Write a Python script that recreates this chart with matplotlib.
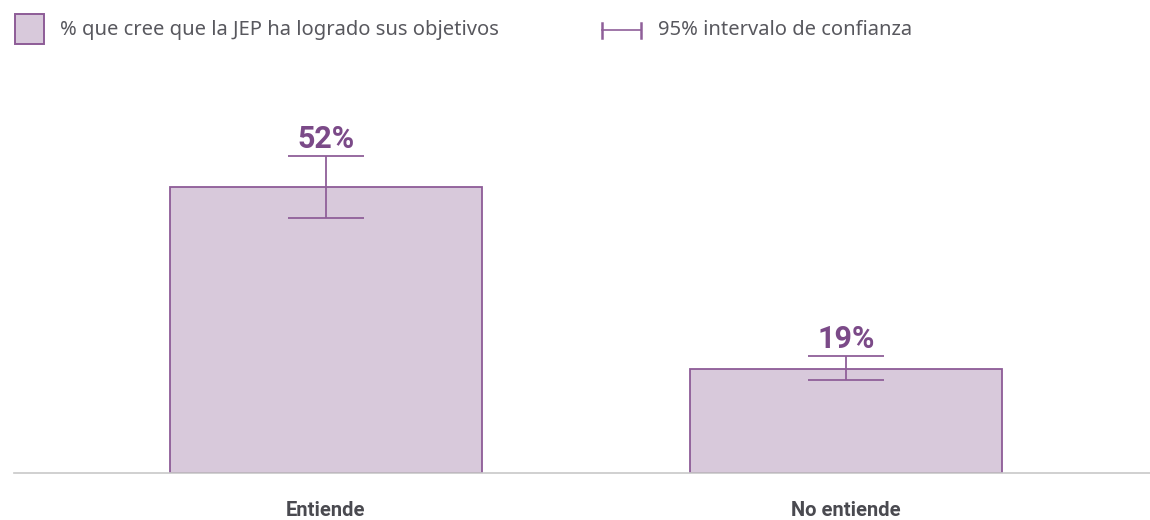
import matplotlib.pyplot as plt
from matplotlib.patches import Rectangle
from matplotlib.lines import Line2D

categories = ['Entiende', 'No entiende']
values = [52, 19]
ci_low = [46.3, 16.9]
ci_high = [57.6, 21.3]

legend_bar = '% que cree que la JEP ha logrado sus objetivos'
legend_ci = '95% intervalo de confianza'

fill = '#d8c9db'
edge = '#8d5c97'
err_col = '#8f5f99'
label_col = '#7b4a88'
text_gray = '#58585e'

fig = plt.figure(figsize=(11.5, 5.2), dpi=100)
ax = fig.add_axes([0.012, 0.0904, 0.988, 0.756])

x = list(range(len(categories)))
ax.bar(x, values, width=0.6, color=fill, edgecolor=edge, linewidth=1.3, zorder=2)

lower = [v - lo for v, lo in zip(values, ci_low)]
upper = [hi - v for v, hi in zip(values, ci_high)]
ax.errorbar(x, values, yerr=[lower, upper], fmt='none', ecolor=err_col,
            elinewidth=1.3, capsize=27.7, capthick=1.3, zorder=3)

for xi, v, hi in zip(x, values, ci_high):
    ax.annotate(f'{v}%', (xi, hi), xytext=(0, 1.5), textcoords='offset points',
                ha='center', va='bottom', fontsize=22, fontweight='bold',
                color=label_col, family='Roboto')

ax.set_xlim(-0.6, 1.585)
ax.set_ylim(0, 71.5)
ax.set_yticks([])
ax.set_xticks(x)
ax.set_xticklabels(categories, fontsize=14.5, fontweight='bold', color='#4a4a50',
                   family='Roboto')
ax.tick_params(axis='x', length=0, pad=20)
for side in ['top', 'right', 'left']:
    ax.spines[side].set_visible(False)
ax.spines['bottom'].set_color('#c8c8c8')
ax.spines['bottom'].set_linewidth(1.2)

# legend drawn by hand along the top
fig.patches.append(Rectangle((14.5 / 1150, 1 - 43.5 / 520), 29 / 1150, 29 / 520,
                             transform=fig.transFigure, facecolor=fill,
                             edgecolor=edge, linewidth=1.4))
fig.text(60 / 1150, 1 - 30 / 520, legend_bar, fontsize=14.5, color=text_gray,
         va='center', ha='left', family='Noto Sans')

yl = 1 - 30 / 520
fig.lines.append(Line2D([602 / 1150, 641 / 1150], [yl, yl], transform=fig.transFigure,
                        color=err_col, linewidth=1.2))
for xe in (602, 641):
    fig.lines.append(Line2D([xe / 1150, xe / 1150], [yl - 7.5 / 520, yl + 7.5 / 520],
                            transform=fig.transFigure, color=err_col, linewidth=1.8))
fig.text(658 / 1150, yl, legend_ci, fontsize=14.5, color=text_gray,
         va='center', ha='left', family='Noto Sans')

fig.savefig('out.png', dpi=100)
